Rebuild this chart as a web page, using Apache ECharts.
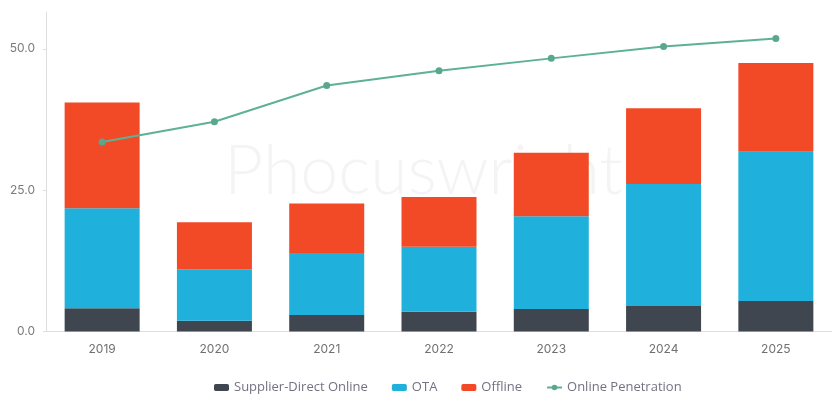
<!DOCTYPE html>
<html>
<head>
<meta charset="utf-8">
<script src="https://cdn.jsdelivr.net/npm/echarts@6/dist/echarts.min.js"></script>
<style>
  html, body { margin: 0; padding: 0; background: #fff; }
  #chart { width: 832px; height: 395px; }
</style>
</head>
<body>
<div id="chart"></div>
<script>
// Travel market by channel (stacked) with online penetration line
const years = ['2019', '2020', '2021', '2022', '2023', '2024', '2025'];
const supplierDirect = [4.1, 1.9, 2.9, 3.5, 4.0, 4.5, 5.4];
const ota = [17.7, 9.1, 11.0, 11.5, 16.4, 21.6, 26.4];
const offline = [18.7, 8.3, 8.75, 8.8, 11.2, 13.4, 15.7];
const onlinePenetration = [33.5, 37.1, 43.5, 46.1, 48.3, 50.4, 51.8];
const yTicks = [0, 25, 50];

const chart = echarts.init(document.getElementById('chart'), null, { renderer: 'canvas' });

const fontFamily = 'Inter, "Noto Sans", sans-serif';

const barSeries = (name, data, color) => ({
  name,
  type: 'bar',
  stack: 'total',
  data,
  barWidth: 75,
  z: 3,
  itemStyle: { color },
  emphasis: { disabled: true }
});

chart.setOption({
  animation: false,
  textStyle: { fontFamily },
  graphic: [{
    type: 'text',
    left: 224,
    top: 138,
    z: -10,
    silent: true,
    style: {
      text: 'Phocuswright',
      fontSize: 68,
      fontWeight: 300,
      fontFamily: 'Lato, Inter, sans-serif',
      fill: '#f4f4f4'
    }
  }],
  grid: { left: 46, right: -8, top: 12, bottom: 63.5, containLabel: false },
  legend: {
    left: 209,
    top: 376,
    itemWidth: 15,
    itemHeight: 7,
    itemGap: 24,
    textStyle: { color: '#727284', fontSize: 13, fontFamily: '"Open Sans", Inter, sans-serif' },
    data: [
      { name: 'Supplier-Direct Online', icon: 'roundRect' },
      { name: 'OTA', icon: 'roundRect' },
      { name: 'Offline', icon: 'roundRect' },
      { name: 'Online Penetration' }
    ]
  },
  xAxis: {
    type: 'category',
    data: years,
    axisLine: { lineStyle: { color: '#dedede' } },
    axisTick: { show: false },
    axisLabel: { color: '#707070', fontSize: 12, margin: 12 }
  },
  yAxis: {
    type: 'value',
    min: yTicks[0],
    max: 56.5,
    interval: yTicks[1] - yTicks[0],
    splitLine: { show: false },
    axisLine: { show: true, lineStyle: { color: '#dedede' } },
    axisTick: { show: true, length: 3, lineStyle: { color: '#dedede' } },
    axisLabel: {
      color: '#7a7a7a',
      fontSize: 12,
      margin: 11,
      showMaxLabel: false,
      formatter: v => (yTicks.includes(v) ? v.toFixed(1) : '')
    }
  },
  series: [
    barSeries('Supplier-Direct Online', supplierDirect, '#3f4650'),
    barSeries('OTA', ota, '#1fb0dc'),
    barSeries('Offline', offline, '#f24a26'),
    {
      name: 'Online Penetration',
      type: 'line',
      data: onlinePenetration,
      symbol: 'circle',
      symbolSize: 7,
      z: 5,
      lineStyle: { color: '#5db195', width: 2 },
      itemStyle: { color: '#5aa88c' },
      emphasis: { disabled: true }
    }
  ]
});
</script>
</body>
</html>
